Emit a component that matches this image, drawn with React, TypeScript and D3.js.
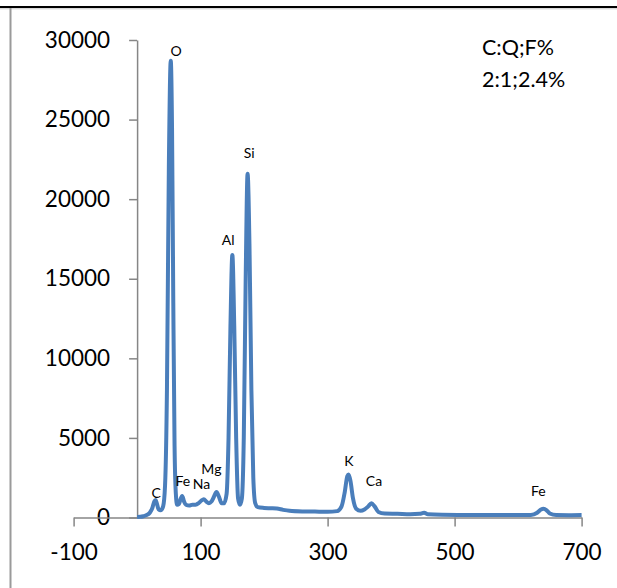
import React, { useRef, useEffect } from "react";
import * as d3 from "d3";

// spectrum: energy channel vs counts
const energy = [
  0, 5, 10, 15, 20, 24, 27, 29, 31, 34, 37, 41, 44, 47, 50, 53, 55, 57, 59, 61,
  63, 66, 68, 71, 74, 77, 82, 87, 92, 97, 101, 105, 109, 113, 117, 121, 125, 129,
  133, 137, 141, 144, 147, 150, 153, 156, 159, 162, 165, 168, 171, 174, 177, 180,
  183, 186, 190, 200, 210, 220, 230, 240, 260, 280, 300, 315, 322, 327, 331, 333,
  336, 340, 345, 352, 358, 364, 369, 374, 380, 390, 410, 430, 445, 452, 458, 480,
  520, 560, 600, 620, 630, 636, 640, 645, 650, 660, 680, 700,
];
const counts = [
  30, 40, 80, 150, 300, 600, 1000, 1100, 900, 500, 450, 700, 2000, 8000, 22000,
  28700, 24500, 13500, 4500, 1500, 800, 850, 1100, 1350, 1000, 800, 750, 800, 800,
  900, 1050, 1150, 1000, 900, 1000, 1300, 1600, 1300, 900, 900, 1500, 5000, 12000,
  16500, 12000, 5000, 1200, 800, 1200, 5000, 15000, 21600, 17000, 8000, 2500, 900,
  650, 600, 580, 560, 480, 420, 380, 370, 360, 400, 700, 1600, 2600, 2700, 2300,
  1200, 550, 420, 500, 700, 900, 700, 350, 250, 230, 200, 230, 300, 200, 170, 160,
  160, 150, 160, 300, 500, 550, 450, 250, 150, 140, 150,
];

// peak annotations (element, energy, counts where the label sits)
const peakNames = ["O", "Si", "Al", "K", "Ca", "Fe", "C", "Fe", "Na", "Mg"];
const peakEnergy = [61.5, 176.5, 143.5, 333.5, 373, 632, 30, 72, 101.5, 117];
const peakCounts = [29000, 22600, 17100, 3250, 1950, 1350, 1250, 1950, 1800, 2720];

const xTicks = [-100, 100, 300, 500, 700];
const yTicks = [0, 5000, 10000, 15000, 20000, 25000, 30000];
const noteLines = ["C:Q;F%", "2:1;2.4%"];

const W = 617;
const H = 588;
const FONT = "Lato, 'Liberation Sans', sans-serif";

const App = () => {
  const svgRef = useRef<SVGSVGElement>(null);

  useEffect(() => {
    const svg = d3.select(svgRef.current);
    svg.selectAll("*").remove();

    const x = d3.scaleLinear().domain([-100, 700]).range([73.6, 581.6]);
    const y = d3.scaleLinear().domain([0, 30000]).range([517.5, 40]);

    // frame lines
    svg.append("line").attr("x1", 0).attr("x2", W).attr("y1", 7).attr("y2", 7)
      .attr("stroke", "#000").attr("stroke-width", 2);
    svg.append("line").attr("x1", 0).attr("x2", W).attr("y1", 8.8).attr("y2", 8.8)
      .attr("stroke", "#c8c8c8").attr("stroke-width", 1);
    svg.append("line").attr("x1", 10.5).attr("x2", 10.5).attr("y1", 8).attr("y2", H)
      .attr("stroke", "#9a9a9a").attr("stroke-width", 2);

    // y axis sits at x = 0
    const yAxis = svg.append("g")
      .attr("transform", `translate(${x(0)},0)`)
      .call(d3.axisLeft(y).tickValues(yTicks).tickSize(8).tickSizeOuter(0).tickPadding(19).tickFormat((d) => String(d)));

    const xAxis = svg.append("g")
      .attr("transform", `translate(0,${y(0)})`)
      .call(d3.axisBottom(x).tickValues(xTicks).tickSize(9).tickSizeOuter(0).tickPadding(18).tickFormat((d) => String(d)));

    [yAxis, xAxis].forEach((g) => {
      g.select(".domain").attr("stroke", "#868686").attr("stroke-width", 1.5);
      g.selectAll(".tick line").attr("stroke", "#868686").attr("stroke-width", 1.5);
      g.selectAll(".tick text").attr("fill", "#000").attr("font-size", 22.5).attr("font-family", FONT);
    });

    const line = d3.line<number>()
      .x((d, i) => x(energy[i]))
      .y((d) => y(d))
      .curve(d3.curveMonotoneX);

    svg.append("path")
      .datum(counts)
      .attr("fill", "none")
      .attr("stroke", "#4a7ebb")
      .attr("stroke-width", 4)
      .attr("stroke-linejoin", "round")
      .attr("d", line);

    svg.append("g")
      .selectAll("text")
      .data(peakNames)
      .join("text")
      .attr("x", (d, i) => x(peakEnergy[i]))
      .attr("y", (d, i) => y(peakCounts[i]))
      .attr("text-anchor", "middle")
      .attr("font-size", 14)
      .attr("font-family", FONT)
      .attr("fill", "#000")
      .text((d) => d);

    svg.append("g")
      .selectAll("text")
      .data(noteLines)
      .join("text")
      .attr("x", 482)
      .attr("y", (d, i) => 55 + i * 31.5)
      .attr("font-size", 21.5)
      .attr("font-family", FONT)
      .attr("fill", "#000")
      .text((d) => d);
  }, []);

  return (
    <svg
      ref={svgRef}
      width={W}
      height={H}
      style={{ position: "absolute", left: 0, top: 0, background: "#fff" }}
    ></svg>
  );
};

export default App;
